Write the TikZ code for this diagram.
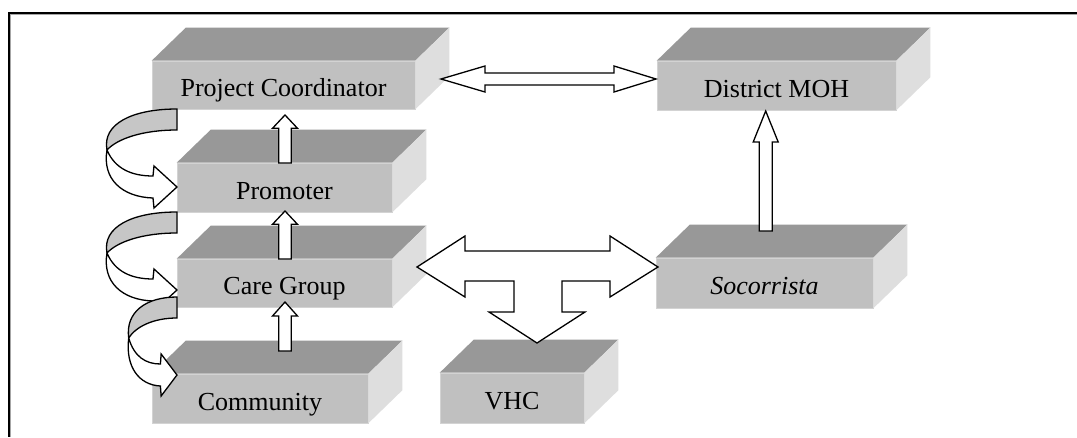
\documentclass[tikz,border=0pt]{standalone}
\usepackage{fontspec}
\setmainfont{Liberation Serif}
\usetikzlibrary{calc}
\definecolor{frontc}{RGB}{192,192,192}
\definecolor{topc}{RGB}{152,152,152}
\definecolor{sidec}{RGB}{222,222,222}
\definecolor{curvc}{RGB}{198,198,198}
\newcommand\slab[6]{%
  \node[front, minimum width=#4pt, minimum height=#5pt] (#1) at (#2,#3) {#6};
  \fill[topc] (#1.north west) -- ++(34,-33) -- ($(#1.north east)+(34,-33)$) -- (#1.north east) -- cycle;
  \fill[sidec] (#1.north east) -- ++(34,-33) -- ($(#1.south east)+(34,-33)$) -- (#1.south east) -- cycle;
}
\newcommand\blockup[6]{% x, ybottom, ytip, halfshaft, halfhead, headlen
  \draw[blk] (#1-#4,#2) -- (#1-#4,#3+#6) -- (#1-#5,#3+#6) -- (#1,#3) -- (#1+#5,#3+#6) -- (#1+#4,#3+#6) -- (#1+#4,#2) -- cycle;
}
\newcommand\curvarrow[3]{% x, y, xscale
  \begin{scope}[shift={(#1,#2)}, xscale=#3]
    \draw[blk, fill=curvc] (0,0) .. controls (-45,0) and (-75,15) .. (-70,41)
      .. controls (-60,30) and (-35,21) .. (0,21) -- cycle;
    \draw[blk] (-70,41) .. controls (-62,60) and (-45,67) .. (-24,67) -- (-23,57) -- (0,78)
      -- (-23,99) -- (-24,89) .. controls (-55,88) and (-75,70) .. (-70,41) -- cycle;
  \end{scope}
}
\tikzset{
  front/.style={fill=frontc, draw=frontc!70!white, line width=0.6pt, inner sep=0pt,
    text height=25pt, text depth=2pt, font=\fontsize{26}{30}\selectfont},
  blk/.style={draw=black, fill=white, line width=1.3pt, line join=miter}
}
\begin{document}
\begin{tikzpicture}[x=1pt, y=-1pt]
\useasboundingbox (0,0) rectangle (1077,437);
\fill[white] (0,0) rectangle (1077,437);
% frame
\draw[black, line width=2pt] (1077,13) -- (9,13) -- (9,437);
\draw[gray!70, line width=1pt] (1077,14.8) -- (10.8,14.8) -- (10.8,437);
% boxes
\slab{pc}{283.5}{85}{263}{48}{Project Coordinator}
\slab{moh}{776.5}{85.5}{239}{49}{District MOH}
\slab{prom}{284.5}{187.5}{215}{49}{Promoter}
\slab{cg}{284.5}{283}{215}{48}{Care Group}
\slab{soc}{764.5}{283}{217}{50}{\itshape Socorrista}
\slab{com}{260}{398.5}{216}{49}{Community}
\slab{vhc}{512}{398}{144}{50}{VHC}
% double arrow PC <-> MOH
\draw[blk] (441,79) -- (485,66) -- (485,73) -- (614,73) -- (614,66) -- (656,79)
  -- (614,92) -- (614,85) -- (485,85) -- (485,92) -- cycle;
% small up arrows
\blockup{285}{163}{115}{6.3}{12.5}{13.3}
\blockup{285}{259}{211}{6.3}{12.5}{13.3}
\blockup{285}{351}{302}{6.3}{12.5}{14}
% Socorrista -> MOH
\blockup{765.7}{231}{111}{6.5}{12.5}{31}
% T arrow
\draw[blk] (417,267) -- (465,236) -- (465,251) -- (610,251) -- (610,236) -- (658,267)
  -- (610,297) -- (610,281) -- (562,281) -- (562,312) -- (585,312) -- (537,343)
  -- (489,312) -- (514,312) -- (514,281) -- (465,281) -- (465,297) -- cycle;
% curved arrows
\curvarrow{177}{109}{1}
\curvarrow{177}{212}{1}
\curvarrow{177}{297}{0.69}
\end{tikzpicture}
\end{document}
